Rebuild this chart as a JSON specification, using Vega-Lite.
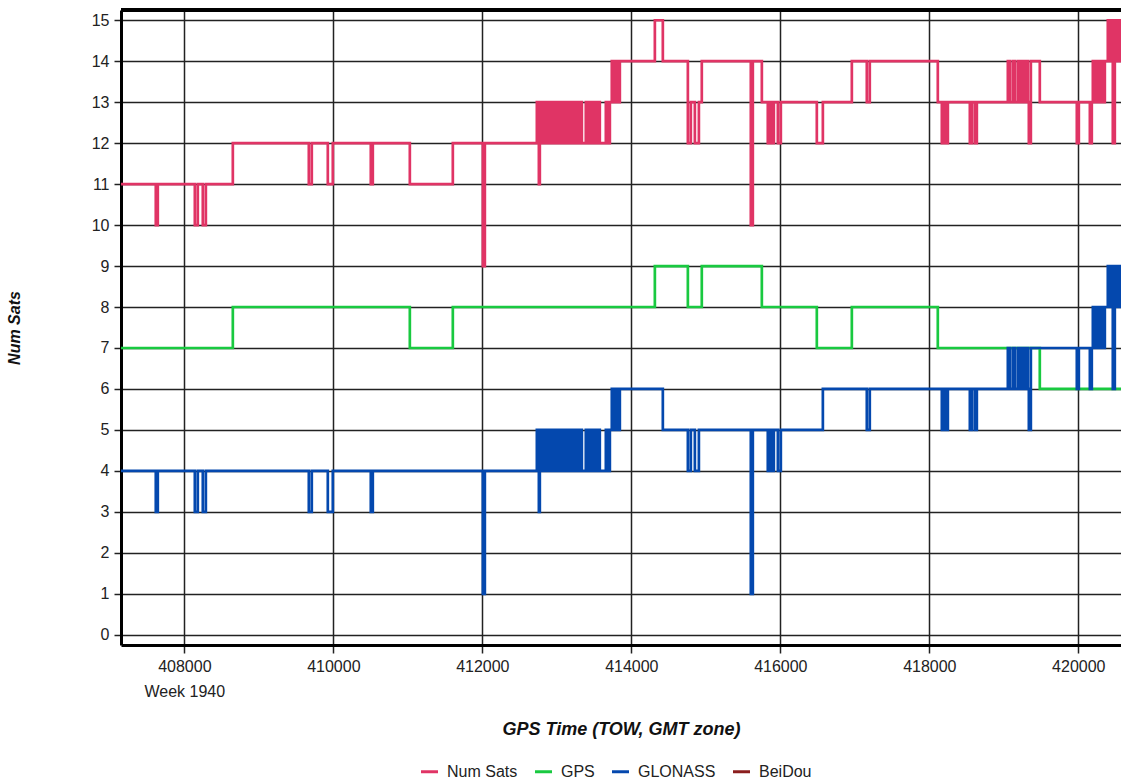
{
  "$schema": "https://vega.github.io/schema/vega-lite/v6.json",
  "width": 1000,
  "height": 635,
  "autosize": {"type": "none"},
  "padding": {"left": 121, "top": 10, "right": 0, "bottom": 137},
  "background": "white",
  "config": {"font": "Liberation Sans", "view": {"stroke": null}},
  "data": {"values": [
    {"t":407100,"s":"Num Sats","n":11},{"t":407617,"s":"Num Sats","n":10},{"t":407644,"s":"Num Sats","n":11},{"t":408141,"s":"Num Sats","n":10},{"t":408181,"s":"Num Sats","n":11},{"t":408248,"s":"Num Sats","n":10},{"t":408289,"s":"Num Sats","n":11},{"t":408651,"s":"Num Sats","n":12},{"t":409671,"s":"Num Sats","n":11},{"t":409711,"s":"Num Sats","n":12},{"t":409926,"s":"Num Sats","n":11},{"t":409993,"s":"Num Sats","n":12},{"t":410503,"s":"Num Sats","n":11},{"t":410530,"s":"Num Sats","n":12},{"t":411027,"s":"Num Sats","n":11},{"t":411604,"s":"Num Sats","n":12},{"t":412007,"s":"Num Sats","n":9},{"t":412034,"s":"Num Sats","n":12},{"t":412732,"s":"Num Sats","n":13},{"t":412759,"s":"Num Sats","n":11},{"t":412772,"s":"Num Sats","n":13},{"t":412799,"s":"Num Sats","n":12},{"t":412826,"s":"Num Sats","n":13},{"t":412852,"s":"Num Sats","n":12},{"t":412879,"s":"Num Sats","n":13},{"t":412906,"s":"Num Sats","n":12},{"t":412933,"s":"Num Sats","n":13},{"t":412960,"s":"Num Sats","n":12},{"t":412987,"s":"Num Sats","n":13},{"t":413013,"s":"Num Sats","n":12},{"t":413040,"s":"Num Sats","n":13},{"t":413067,"s":"Num Sats","n":12},{"t":413094,"s":"Num Sats","n":13},{"t":413121,"s":"Num Sats","n":12},{"t":413148,"s":"Num Sats","n":13},{"t":413175,"s":"Num Sats","n":12},{"t":413201,"s":"Num Sats","n":13},{"t":413228,"s":"Num Sats","n":12},{"t":413255,"s":"Num Sats","n":13},{"t":413282,"s":"Num Sats","n":12},{"t":413309,"s":"Num Sats","n":13},{"t":413336,"s":"Num Sats","n":12},{"t":413389,"s":"Num Sats","n":13},{"t":413416,"s":"Num Sats","n":12},{"t":413443,"s":"Num Sats","n":13},{"t":413470,"s":"Num Sats","n":12},{"t":413497,"s":"Num Sats","n":13},{"t":413524,"s":"Num Sats","n":12},{"t":413550,"s":"Num Sats","n":13},{"t":413577,"s":"Num Sats","n":12},{"t":413658,"s":"Num Sats","n":13},{"t":413685,"s":"Num Sats","n":12},{"t":413712,"s":"Num Sats","n":13},{"t":413738,"s":"Num Sats","n":14},{"t":413765,"s":"Num Sats","n":13},{"t":413792,"s":"Num Sats","n":14},{"t":413819,"s":"Num Sats","n":13},{"t":413846,"s":"Num Sats","n":14},{"t":414316,"s":"Num Sats","n":15},{"t":414423,"s":"Num Sats","n":14},{"t":414759,"s":"Num Sats","n":12},{"t":414799,"s":"Num Sats","n":13},{"t":414853,"s":"Num Sats","n":12},{"t":414907,"s":"Num Sats","n":13},{"t":414946,"s":"Num Sats","n":14},{"t":415604,"s":"Num Sats","n":10},{"t":415631,"s":"Num Sats","n":14},{"t":415752,"s":"Num Sats","n":13},{"t":415832,"s":"Num Sats","n":12},{"t":415859,"s":"Num Sats","n":13},{"t":415886,"s":"Num Sats","n":12},{"t":415913,"s":"Num Sats","n":13},{"t":415967,"s":"Num Sats","n":12},{"t":416007,"s":"Num Sats","n":13},{"t":416490,"s":"Num Sats","n":12},{"t":416571,"s":"Num Sats","n":13},{"t":416960,"s":"Num Sats","n":14},{"t":417161,"s":"Num Sats","n":13},{"t":417201,"s":"Num Sats","n":14},{"t":418114,"s":"Num Sats","n":13},{"t":418168,"s":"Num Sats","n":12},{"t":418195,"s":"Num Sats","n":13},{"t":418222,"s":"Num Sats","n":12},{"t":418249,"s":"Num Sats","n":13},{"t":418544,"s":"Num Sats","n":12},{"t":418571,"s":"Num Sats","n":13},{"t":418611,"s":"Num Sats","n":12},{"t":418638,"s":"Num Sats","n":13},{"t":419054,"s":"Num Sats","n":14},{"t":419081,"s":"Num Sats","n":13},{"t":419121,"s":"Num Sats","n":14},{"t":419148,"s":"Num Sats","n":13},{"t":419188,"s":"Num Sats","n":14},{"t":419215,"s":"Num Sats","n":13},{"t":419242,"s":"Num Sats","n":14},{"t":419269,"s":"Num Sats","n":13},{"t":419296,"s":"Num Sats","n":14},{"t":419323,"s":"Num Sats","n":13},{"t":419336,"s":"Num Sats","n":12},{"t":419363,"s":"Num Sats","n":14},{"t":419483,"s":"Num Sats","n":13},{"t":419980,"s":"Num Sats","n":12},{"t":420007,"s":"Num Sats","n":13},{"t":420155,"s":"Num Sats","n":12},{"t":420181,"s":"Num Sats","n":13},{"t":420195,"s":"Num Sats","n":14},{"t":420222,"s":"Num Sats","n":13},{"t":420249,"s":"Num Sats","n":14},{"t":420276,"s":"Num Sats","n":13},{"t":420302,"s":"Num Sats","n":14},{"t":420329,"s":"Num Sats","n":13},{"t":420356,"s":"Num Sats","n":14},{"t":420396,"s":"Num Sats","n":15},{"t":420423,"s":"Num Sats","n":14},{"t":420450,"s":"Num Sats","n":15},{"t":420463,"s":"Num Sats","n":12},{"t":420490,"s":"Num Sats","n":15},{"t":420517,"s":"Num Sats","n":14},{"t":420530,"s":"Num Sats","n":15},{"t":420544,"s":"Num Sats","n":14},{"t":420557,"s":"Num Sats","n":15},{"t":420600,"s":"Num Sats","n":15},

    {"t":407100,"s":"GPS","n":7},{"t":408651,"s":"GPS","n":8},{"t":411027,"s":"GPS","n":7},{"t":411604,"s":"GPS","n":8},{"t":414316,"s":"GPS","n":9},{"t":414759,"s":"GPS","n":8},{"t":414946,"s":"GPS","n":9},{"t":415752,"s":"GPS","n":8},{"t":416490,"s":"GPS","n":7},{"t":416960,"s":"GPS","n":8},{"t":418114,"s":"GPS","n":7},{"t":419483,"s":"GPS","n":6},{"t":420600,"s":"GPS","n":6},

    {"t":407100,"s":"GLONASS","n":4},{"t":407617,"s":"GLONASS","n":3},{"t":407644,"s":"GLONASS","n":4},{"t":408141,"s":"GLONASS","n":3},{"t":408181,"s":"GLONASS","n":4},{"t":408248,"s":"GLONASS","n":3},{"t":408289,"s":"GLONASS","n":4},{"t":409671,"s":"GLONASS","n":3},{"t":409711,"s":"GLONASS","n":4},{"t":409926,"s":"GLONASS","n":3},{"t":409993,"s":"GLONASS","n":4},{"t":410503,"s":"GLONASS","n":3},{"t":410530,"s":"GLONASS","n":4},{"t":412007,"s":"GLONASS","n":1},{"t":412034,"s":"GLONASS","n":4},{"t":412732,"s":"GLONASS","n":5},{"t":412759,"s":"GLONASS","n":3},{"t":412772,"s":"GLONASS","n":5},{"t":412799,"s":"GLONASS","n":4},{"t":412826,"s":"GLONASS","n":5},{"t":412852,"s":"GLONASS","n":4},{"t":412879,"s":"GLONASS","n":5},{"t":412906,"s":"GLONASS","n":4},{"t":412933,"s":"GLONASS","n":5},{"t":412960,"s":"GLONASS","n":4},{"t":412987,"s":"GLONASS","n":5},{"t":413013,"s":"GLONASS","n":4},{"t":413040,"s":"GLONASS","n":5},{"t":413067,"s":"GLONASS","n":4},{"t":413094,"s":"GLONASS","n":5},{"t":413121,"s":"GLONASS","n":4},{"t":413148,"s":"GLONASS","n":5},{"t":413175,"s":"GLONASS","n":4},{"t":413201,"s":"GLONASS","n":5},{"t":413228,"s":"GLONASS","n":4},{"t":413255,"s":"GLONASS","n":5},{"t":413282,"s":"GLONASS","n":4},{"t":413309,"s":"GLONASS","n":5},{"t":413336,"s":"GLONASS","n":4},{"t":413389,"s":"GLONASS","n":5},{"t":413416,"s":"GLONASS","n":4},{"t":413443,"s":"GLONASS","n":5},{"t":413470,"s":"GLONASS","n":4},{"t":413497,"s":"GLONASS","n":5},{"t":413524,"s":"GLONASS","n":4},{"t":413550,"s":"GLONASS","n":5},{"t":413577,"s":"GLONASS","n":4},{"t":413658,"s":"GLONASS","n":5},{"t":413685,"s":"GLONASS","n":4},{"t":413712,"s":"GLONASS","n":5},{"t":413738,"s":"GLONASS","n":6},{"t":413765,"s":"GLONASS","n":5},{"t":413792,"s":"GLONASS","n":6},{"t":413819,"s":"GLONASS","n":5},{"t":413846,"s":"GLONASS","n":6},{"t":414423,"s":"GLONASS","n":5},{"t":414759,"s":"GLONASS","n":4},{"t":414799,"s":"GLONASS","n":5},{"t":414853,"s":"GLONASS","n":4},{"t":414907,"s":"GLONASS","n":5},{"t":415604,"s":"GLONASS","n":1},{"t":415631,"s":"GLONASS","n":5},{"t":415832,"s":"GLONASS","n":4},{"t":415859,"s":"GLONASS","n":5},{"t":415886,"s":"GLONASS","n":4},{"t":415913,"s":"GLONASS","n":5},{"t":415967,"s":"GLONASS","n":4},{"t":416007,"s":"GLONASS","n":5},{"t":416571,"s":"GLONASS","n":6},{"t":417161,"s":"GLONASS","n":5},{"t":417201,"s":"GLONASS","n":6},{"t":418168,"s":"GLONASS","n":5},{"t":418195,"s":"GLONASS","n":6},{"t":418222,"s":"GLONASS","n":5},{"t":418249,"s":"GLONASS","n":6},{"t":418544,"s":"GLONASS","n":5},{"t":418571,"s":"GLONASS","n":6},{"t":418611,"s":"GLONASS","n":5},{"t":418638,"s":"GLONASS","n":6},{"t":419054,"s":"GLONASS","n":7},{"t":419081,"s":"GLONASS","n":6},{"t":419121,"s":"GLONASS","n":7},{"t":419148,"s":"GLONASS","n":6},{"t":419188,"s":"GLONASS","n":7},{"t":419215,"s":"GLONASS","n":6},{"t":419242,"s":"GLONASS","n":7},{"t":419269,"s":"GLONASS","n":6},{"t":419296,"s":"GLONASS","n":7},{"t":419323,"s":"GLONASS","n":6},{"t":419336,"s":"GLONASS","n":5},{"t":419363,"s":"GLONASS","n":7},{"t":419980,"s":"GLONASS","n":6},{"t":420007,"s":"GLONASS","n":7},{"t":420155,"s":"GLONASS","n":6},{"t":420181,"s":"GLONASS","n":7},{"t":420195,"s":"GLONASS","n":8},{"t":420222,"s":"GLONASS","n":7},{"t":420249,"s":"GLONASS","n":8},{"t":420276,"s":"GLONASS","n":7},{"t":420302,"s":"GLONASS","n":8},{"t":420329,"s":"GLONASS","n":7},{"t":420356,"s":"GLONASS","n":8},{"t":420396,"s":"GLONASS","n":9},{"t":420423,"s":"GLONASS","n":8},{"t":420450,"s":"GLONASS","n":9},{"t":420463,"s":"GLONASS","n":6},{"t":420490,"s":"GLONASS","n":9},{"t":420517,"s":"GLONASS","n":8},{"t":420530,"s":"GLONASS","n":9},{"t":420544,"s":"GLONASS","n":8},{"t":420557,"s":"GLONASS","n":9},{"t":420600,"s":"GLONASS","n":9}
  ]},
  "layer": [
    {
      "mark": {"type": "line", "interpolate": "step-after", "strokeWidth": 2.7, "clip": true},
      "encoding": {
        "x": {
          "field": "t", "type": "quantitative",
          "scale": {"domain": [407150, 420573], "nice": false, "zero": false},
          "axis": {
            "values": [408000, 410000, 412000, 414000, 416000, 418000, 420000],
            "format": "d",
            "labelExpr": "datum.value == 408000 ? ['408000', 'Week 1940'] : datum.label",
            "labelLineHeight": 25,
            "labelFontSize": 16, "labelColor": "#222", "labelPadding": 5,
            "labelFlush": false, "labelOverlap": false,
            "grid": true, "gridColor": "#222", "gridWidth": 1.5, "gridOpacity": 1,
            "domain": true, "domainColor": "black", "domainWidth": 3,
            "ticks": true, "tickColor": "#222", "tickWidth": 1.5, "tickSize": 8,
            "title": "GPS Time (TOW, GMT zone)",
            "titleFontSize": 18, "titleFontWeight": "bold", "titleFontStyle": "italic",
            "titleColor": "#111", "titlePadding": 21
          }
        },
        "y": {
          "field": "n", "type": "quantitative",
          "scale": {"domain": [-0.25, 15.25], "nice": false, "zero": false},
          "axis": {
            "values": [0, 1, 2, 3, 4, 5, 6, 7, 8, 9, 10, 11, 12, 13, 14, 15],
            "labelFontSize": 16, "labelColor": "#222", "labelPadding": 5,
            "grid": true, "gridColor": "#222", "gridWidth": 1.5, "gridOpacity": 1,
            "domain": true, "domainColor": "black", "domainWidth": 3,
            "ticks": true, "tickColor": "#222", "tickWidth": 1.5, "tickSize": 7,
            "title": "Num Sats",
            "titleFontSize": 16, "titleFontWeight": "bold", "titleFontStyle": "italic",
            "titleColor": "#111", "titlePadding": 69
          }
        },
        "color": {
          "field": "s", "type": "nominal",
          "scale": {
            "domain": ["Num Sats", "GPS", "GLONASS", "BeiDou"],
            "range": ["#E03465", "#19C940", "#0448AE", "#8B1E1E"]
          },
          "legend": {
            "title": null, "orient": "none", "direction": "horizontal",
            "legendX": 298, "legendY": 751,
            "symbolType": "stroke", "symbolStrokeWidth": 3, "symbolSize": 290,
            "labelFontSize": 16, "labelColor": "#222", "labelOffset": 7,
            "columnPadding": 10
          }
        }
      }
    },
    {
      "mark": {"type": "rule", "color": "black", "strokeWidth": 3},
      "encoding": {"y": {"datum": 15.25}}
    }
  ]
}
